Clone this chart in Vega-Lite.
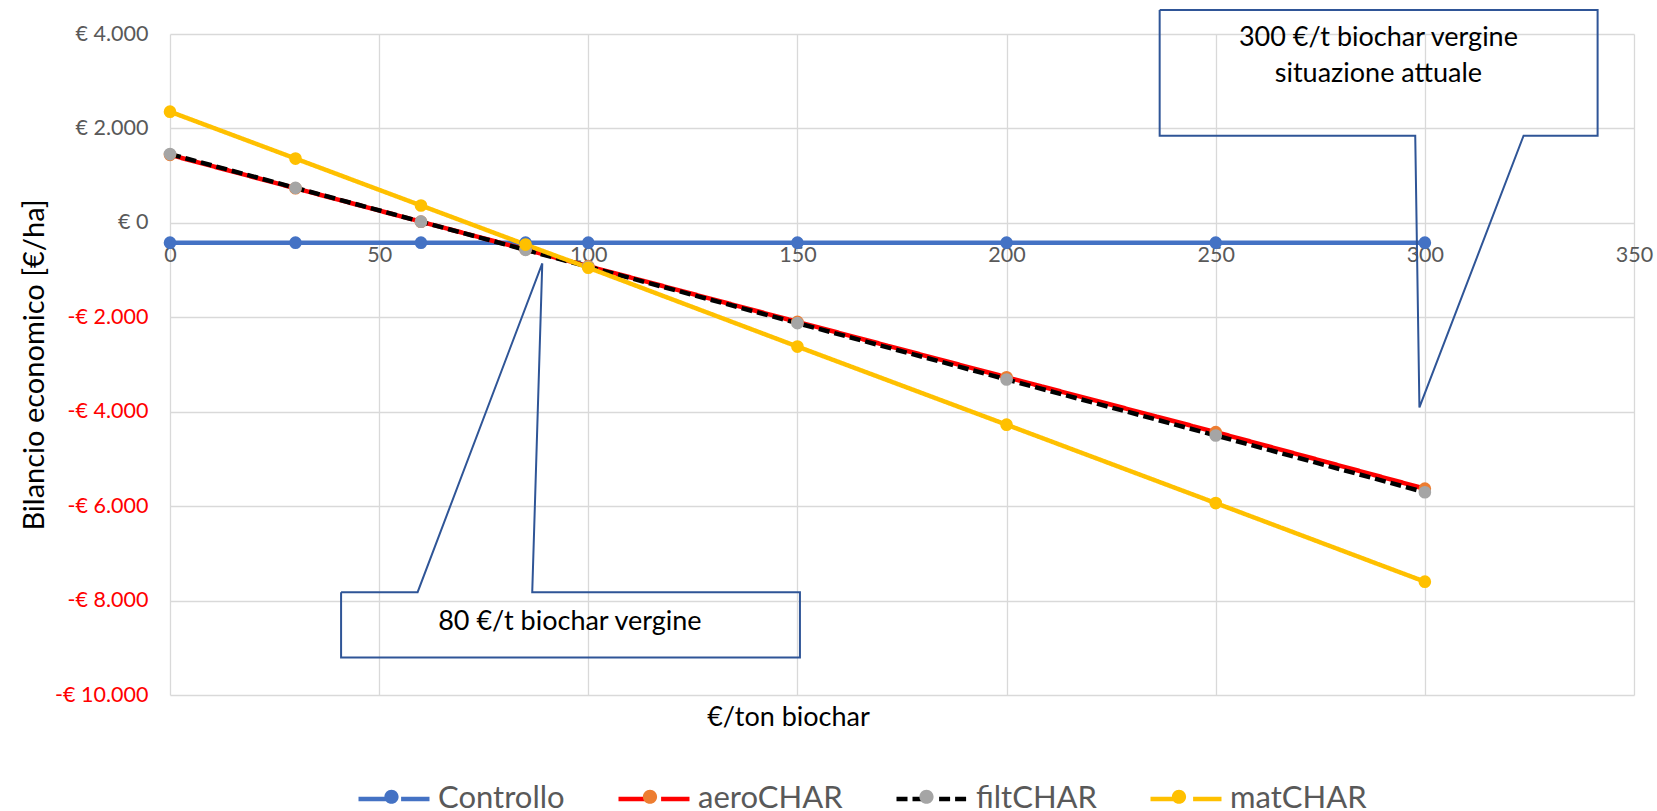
{
  "$schema": "https://vega.github.io/schema/vega-lite/v6.json",
  "width": 1464,
  "height": 661,
  "autosize": {"type": "none"},
  "padding": {"left": 170, "top": 34, "right": 23, "bottom": 116},
  "background": "#ffffff",
  "config": {
    "font": "Lato",
    "view": {"stroke": null},
    "axis": {
      "gridColor": "#D9D9D9",
      "gridWidth": 1.3,
      "domain": false,
      "ticks": false,
      "labelFont": "Lato",
      "labelFontSize": 21.5,
      "labelColor": "#595959",
      "titleFont": "Lato",
      "titleFontWeight": "normal",
      "titleColor": "#000000"
    }
  },
  "datasets": {
    "series": [
      {"s": "Controllo", "x": 0, "y": -420},
      {"s": "Controllo", "x": 30, "y": -420},
      {"s": "Controllo", "x": 60, "y": -420},
      {"s": "Controllo", "x": 85, "y": -420},
      {"s": "Controllo", "x": 100, "y": -420},
      {"s": "Controllo", "x": 150, "y": -420},
      {"s": "Controllo", "x": 200, "y": -420},
      {"s": "Controllo", "x": 250, "y": -420},
      {"s": "Controllo", "x": 300, "y": -420},
      {"s": "aeroCHAR", "x": 0, "y": 1440},
      {"s": "aeroCHAR", "x": 30, "y": 733},
      {"s": "aeroCHAR", "x": 60, "y": 25},
      {"s": "aeroCHAR", "x": 85, "y": -564},
      {"s": "aeroCHAR", "x": 100, "y": -918},
      {"s": "aeroCHAR", "x": 150, "y": -2097},
      {"s": "aeroCHAR", "x": 200, "y": -3270},
      {"s": "aeroCHAR", "x": 250, "y": -4432},
      {"s": "aeroCHAR", "x": 300, "y": -5630},
      {"s": "filtCHAR", "x": 0, "y": 1457},
      {"s": "filtCHAR", "x": 30, "y": 741},
      {"s": "filtCHAR", "x": 60, "y": 25},
      {"s": "filtCHAR", "x": 85, "y": -572},
      {"s": "filtCHAR", "x": 100, "y": -930},
      {"s": "filtCHAR", "x": 150, "y": -2124},
      {"s": "filtCHAR", "x": 200, "y": -3317},
      {"s": "filtCHAR", "x": 250, "y": -4503},
      {"s": "filtCHAR", "x": 300, "y": -5705},
      {"s": "matCHAR", "x": 0, "y": 2355},
      {"s": "matCHAR", "x": 30, "y": 1362},
      {"s": "matCHAR", "x": 60, "y": 368},
      {"s": "matCHAR", "x": 85, "y": -460},
      {"s": "matCHAR", "x": 100, "y": -950},
      {"s": "matCHAR", "x": 150, "y": -2620},
      {"s": "matCHAR", "x": 200, "y": -4275},
      {"s": "matCHAR", "x": 250, "y": -5935},
      {"s": "matCHAR", "x": 300, "y": -7600}
    ],
    "callouts": [
      {"c": "c1", "o": 0, "x": 236.6, "y": 4509},
      {"c": "c1", "o": 1, "x": 341.3, "y": 4509},
      {"c": "c1", "o": 2, "x": 341.3, "y": 1846},
      {"c": "c1", "o": 3, "x": 323.6, "y": 1846},
      {"c": "c1", "o": 4, "x": 298.7, "y": -3910},
      {"c": "c1", "o": 5, "x": 297.7, "y": 1846},
      {"c": "c1", "o": 6, "x": 236.6, "y": 1846},
      {"c": "c1", "o": 7, "x": 236.6, "y": 4509},
      {"c": "c2", "o": 0, "x": 40.9, "y": -7823},
      {"c": "c2", "o": 1, "x": 59.2, "y": -7823},
      {"c": "c2", "o": 2, "x": 89.0, "y": -858},
      {"c": "c2", "o": 3, "x": 86.6, "y": -7823},
      {"c": "c2", "o": 4, "x": 150.6, "y": -7823},
      {"c": "c2", "o": 5, "x": 150.6, "y": -9207},
      {"c": "c2", "o": 6, "x": 40.9, "y": -9207},
      {"c": "c2", "o": 7, "x": 40.9, "y": -7823}
    ],
    "labels": [
      {"t": "300 €/t biochar vergine", "x": 288.9, "y": 3910},
      {"t": "situazione attuale", "x": 288.9, "y": 3153},
      {"t": "80 €/t biochar vergine", "x": 95.6, "y": -8453}
    ]
  },
  "encoding": {
    "x": {
      "field": "x",
      "type": "quantitative",
      "scale": {"domain": [0, 350], "nice": false, "zero": false},
      "axis": {
        "orient": "bottom",
        "offset": -472,
        "values": [0, 50, 100, 150, 200, 250, 300, 350],
        "labelPadding": 21,
        "labelOverlap": false,
        "labelBound": false,
        "labelFlush": false,
        "title": "€/ton biochar",
        "titleFontSize": 27,
        "titleX": 618,
        "titleY": 494,
        "titleBaseline": "middle",
        "titleAlign": "center"
      }
    },
    "y": {
      "field": "y",
      "type": "quantitative",
      "scale": {"domain": [-10000, 4000], "nice": false, "zero": false},
      "axis": {
        "values": [-10000, -8000, -6000, -4000, -2000, 0, 2000, 4000],
        "labelPadding": 22,
        "labelExpr": "datum.value >= 0 ? '€ ' + replace(format(datum.value, ','), ',', '.') : '-€ ' + replace(format(-datum.value, ','), ',', '.')",
        "labelColor": {"condition": {"test": "datum.value < 0", "value": "#FF0000"}, "value": "#595959"},
        "labelOverlap": false,
        "title": "Bilancio economico [€/ha]",
        "titleFontSize": 29,
        "titleAngle": -90,
        "titleX": -136,
        "titleY": 330.5,
        "titleBaseline": "middle",
        "titleAlign": "center"
      }
    }
  },
  "layer": [
    {
      "data": {"name": "series"},
      "mark": {"type": "line", "strokeWidth": 4.5, "clip": false},
      "encoding": {
        "stroke": {
          "field": "s",
          "type": "nominal",
          "scale": {"domain": ["Controllo", "aeroCHAR", "filtCHAR", "matCHAR"], "range": ["#4472C4", "#FF0000", "#000000", "#FFC000"]},
          "legend": {
            "orient": "none", "legendX": 186, "legendY": 727, "direction": "horizontal", "title": null,
            "symbolType": "M-1,0L-0.2,0M0.2,0L1,0", "symbolSize": 5041, "symbolStrokeWidth": 4.5,
            "labelFont": "Lato", "labelFontSize": 31, "labelColor": "#595959", "labelOffset": 6,
            "columnPadding": 44, "padding": 0, "labelLimit": 0
          }
        },
        "strokeDash": {
          "field": "s",
          "type": "nominal",
          "scale": {"domain": ["Controllo", "aeroCHAR", "filtCHAR", "matCHAR"], "range": [[1, 0], [1, 0], [11, 5], [1, 0]]},
          "legend": {
            "orient": "none", "legendX": 186, "legendY": 727, "direction": "horizontal", "title": null,
            "symbolType": "M-1,0L-0.2,0M0.2,0L1,0", "symbolSize": 5041, "symbolStrokeWidth": 4.5,
            "labelFont": "Lato", "labelFontSize": 31, "labelColor": "#595959", "labelOffset": 6,
            "columnPadding": 44, "padding": 0, "labelLimit": 0
          }
        }
      }
    },
    {
      "data": {"name": "series"},
      "mark": {"type": "point", "filled": true, "size": 160, "opacity": 1, "strokeWidth": 0, "clip": false},
      "encoding": {
        "fill": {
          "field": "s",
          "type": "nominal",
          "scale": {"domain": ["Controllo", "aeroCHAR", "filtCHAR", "matCHAR", "-"], "range": ["#4472C4", "#ED7D31", "#A5A5A5", "#FFC000", "#FFFFFF"]},
          "legend": {
            "values": ["Controllo", "aeroCHAR", "filtCHAR", "matCHAR"],
            "orient": "none", "legendX": 186, "legendY": 727, "direction": "horizontal", "title": null,
            "symbolType": "M-1,0L-1,0M1,0L1,0M0.2,0A0.2,0.2 0 1 1 -0.2,0A0.2,0.2 0 1 1 0.2,0Z", "symbolSize": 5041, "symbolStrokeWidth": 0,
            "labelFont": "Lato", "labelFontSize": 31, "labelColor": "#595959", "labelOpacity": 0, "labelOffset": 6,
            "columnPadding": 54.5, "padding": 0, "labelLimit": 0
          }
        }
      }
    },
    {
      "data": {"name": "callouts"},
      "mark": {"type": "line", "stroke": "#2F5597", "strokeWidth": 2, "strokeJoin": "miter", "clip": false},
      "encoding": {
        "detail": {"field": "c", "type": "nominal"},
        "order": {"field": "o", "type": "quantitative"}
      }
    },
    {
      "data": {"name": "labels"},
      "mark": {"type": "text", "font": "Lato", "fontSize": 27, "color": "#000000", "align": "center", "baseline": "middle", "clip": false},
      "encoding": {
        "text": {"field": "t", "type": "nominal"}
      }
    }
  ]
}
